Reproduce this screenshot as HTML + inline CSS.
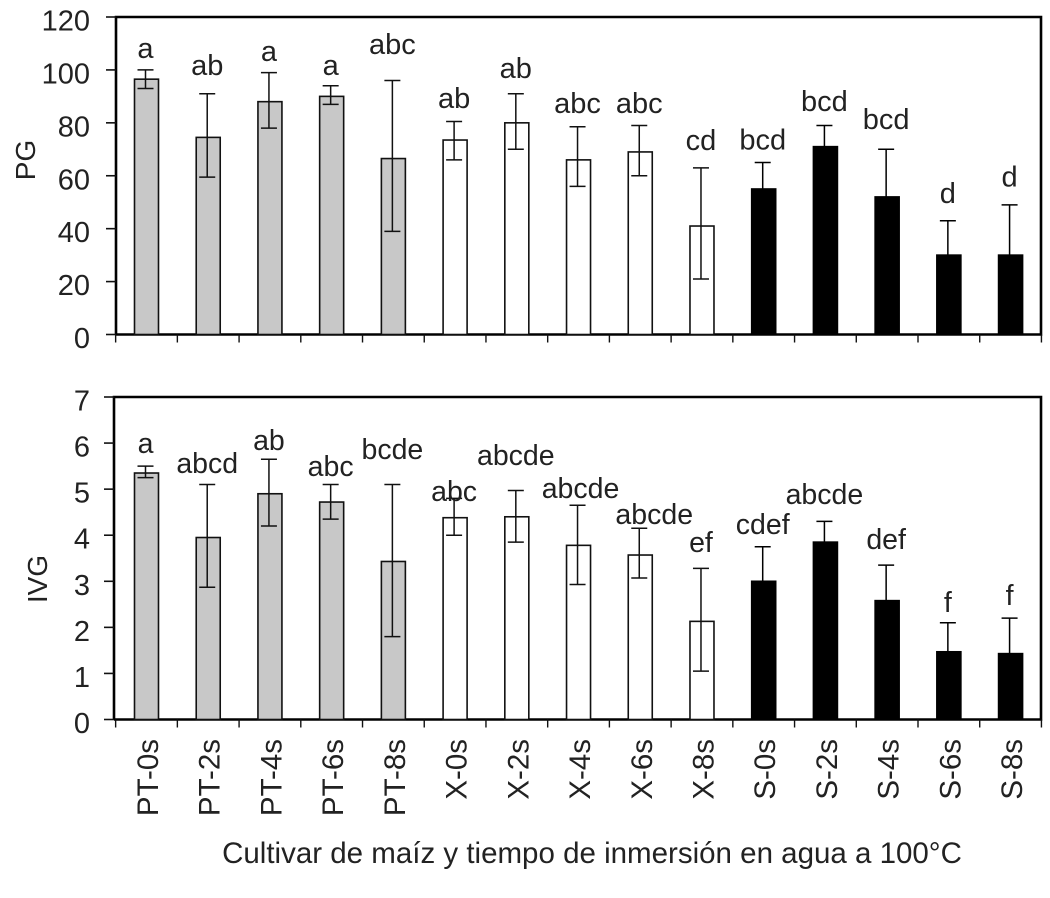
<!DOCTYPE html>
<html lang="es">
<head>
<meta charset="utf-8">
<title>PG e IVG por cultivar de maíz</title>
<style>
html,body{margin:0;padding:0;background:#fff;width:1050px;height:898px;overflow:hidden}
svg{display:block;font-family:"Liberation Sans",Arial,sans-serif;fill:#222;filter:blur(0.35px)}
text{fill:#222}
</style>
</head>
<body>
<svg id="chart" width="1050" height="898" viewBox="0 0 1050 898" xmlns="http://www.w3.org/2000/svg"></svg>
<script>
const categories = ['PT-0s','PT-2s','PT-4s','PT-6s','PT-8s','X-0s','X-2s','X-4s','X-6s','X-8s','S-0s','S-2s','S-4s','S-6s','S-8s'];
const groupFills = ['#c8c8c8','#c8c8c8','#c8c8c8','#c8c8c8','#c8c8c8','#ffffff','#ffffff','#ffffff','#ffffff','#ffffff','#000000','#000000','#000000','#000000','#000000'];

const pgTicks = [0,20,40,60,80,100,120];
const pgValues = [96.5,74.5,88,90,66.5,73.5,80,66,69,41,55,71,52,30,30];
const pgErrHigh = [100,91,99,94,96,80.5,91,78.5,79,63,65,79,70,43,49];
const pgErrLow = [93,59.5,78,87,39,66,70,56,60,21,45,63,34,17,11];
const pgLetters = ['a','ab','a','a','abc','ab','ab','abc','abc','cd','bcd','bcd','bcd','d','d'];
const pgLetterLevels = [104.5,98,103.4,98,106,85.6,97,83.7,83.7,69.7,70,84.5,77.7,49.7,56];

const ivgTicks = [0,1,2,3,4,5,6,7];
const ivgValues = [5.35,3.95,4.9,4.72,3.43,4.38,4.4,3.78,3.57,2.13,3.0,3.85,2.58,1.47,1.43];
const ivgErrHigh = [5.5,5.1,5.65,5.1,5.1,4.8,4.97,4.65,4.15,3.28,3.75,4.3,3.35,2.1,2.2];
const ivgErrLow = [5.25,2.87,4.2,4.35,1.8,4.0,3.85,2.93,3.07,1.05,2.25,3.4,1.8,0.85,0.65];
const ivgLetters = ['a','abcd','ab','abc','bcde','abc','abcde','abcde','abcde','ef','cdef','abcde','def','f','f'];
const ivgLetterLevels = [5.78,5.35,5.85,5.29,5.65,4.74,5.52,4.81,4.24,3.64,4.03,4.68,3.70,2.33,2.49];

const svg = document.getElementById('chart');
const NS = 'http://www.w3.org/2000/svg';
function mk(tag, attrs, parent) {
  const el = document.createElementNS(NS, tag);
  for (const k in attrs) el.setAttribute(k, attrs[k]);
  (parent || svg).appendChild(el);
  return el;
}
const BAND = 61.72, FIRST = 146.5;
function xScale(i) { return FIRST + BAND * i; }

function drawPanel(cfg) {
  const g = mk('g', {});
  
  
  const maxV = cfg.ticks[cfg.ticks.length - 1];
  const y = v => cfg.y0 + (cfg.yTop - cfg.y0) * v / maxV;

  const frame = mk('path', {
    d: 'M' + cfg.xLeft + ' ' + cfg.y0 + 'V' + cfg.yTop + 'H1041V' + cfg.y0 + 'H' + cfg.xLeft,
    fill: 'none', stroke: '#000', 'stroke-width': 2.6
  }, g);
  
  

  categories.forEach((cat, i) => {
    const v = cfg.values[i];
    const cx = xScale(i);
    const isBlack = groupFills[i] === '#000000';
    const edge = isBlack ? '#000' : '#111';
    const bar = mk('rect', {x: cx - 12, y: y(v), width: 24, height: cfg.y0 - y(v), fill: groupFills[i], stroke: edge, 'stroke-width': 1.6}, g);
    
    

    const ex = cx - 1;
    const err = mk('path', {
      d: 'M' + ex + ' ' + y(cfg.errHigh[i]) + 'V' + y(cfg.errLow[i]) +
         'M' + (ex - 8) + ' ' + y(cfg.errHigh[i]) + 'H' + (ex + 8) +
         'M' + (ex - 8) + ' ' + y(cfg.errLow[i]) + 'H' + (ex + 8),
      stroke: edge, 'stroke-width': 1.5, fill: 'none'
    }, g);
    
    

    const lab = mk('text', {x: cx - 1 + (cfg.letterNudge[i] || 0), y: y(cfg.levels[i]), 'text-anchor': 'middle', 'font-size': cfg.letterSize}, g);
    lab.textContent = cfg.letters[i];
    
    
  });

  cfg.ticks.forEach(t => {
    const tk = mk('line', {x1: cfg.xLeft - 10, x2: cfg.xLeft, y1: y(t), y2: y(t), stroke: '#111', 'stroke-width': 1.6}, g);
    
    
    const tl = mk('text', {x: 90, y: y(t) + 13.5, 'text-anchor': 'end', 'font-size': 29}, g);
    tl.textContent = t;
    
    
  });

  for (let i = 0; i <= categories.length; i++) {
    const tx = xScale(i) - BAND / 2;
    const xt = mk('line', {x1: tx, x2: tx, y1: cfg.y0, y2: cfg.y0 + 8, stroke: '#111', 'stroke-width': 1.4}, g);
    
    
  }

  const title = mk('text', {transform: 'translate(' + cfg.titleX + ' ' + cfg.titleY + ') rotate(-90)', 'text-anchor': 'middle', 'font-size': 28}, g);
  title.textContent = cfg.title;
  
  
}

drawPanel({name:'pg', title:'PG', titleX:35, titleY:160, y0:334.5, yTop:17, xLeft:116, letterSize:29, letterNudge:{}, ticks:pgTicks,
  values:pgValues, errHigh:pgErrHigh, errLow:pgErrLow, letters:pgLetters, levels:pgLetterLevels});
drawPanel({name:'ivg', title:'IVG', titleX:47, titleY:579, y0:719.5, yTop:397, xLeft:114, letterSize:28.5, letterNudge:{7:3,8:15}, ticks:ivgTicks,
  values:ivgValues, errHigh:ivgErrHigh, errLow:ivgErrLow, letters:ivgLetters, levels:ivgLetterLevels});

categories.forEach((cat, i) => {
  const t = mk('text', {transform: 'translate(' + (xScale(i) + 11.5) + ' 739) rotate(-90)', 'text-anchor': 'end', 'font-size': 29.5});
  t.textContent = cat;
  
  
});

const xTitle = mk('text', {x: 592, y: 863, 'text-anchor': 'middle', 'font-size': 29.5});
xTitle.textContent = 'Cultivar de maíz y tiempo de inmersión en agua a 100°C';


</script>
</body>
</html>
